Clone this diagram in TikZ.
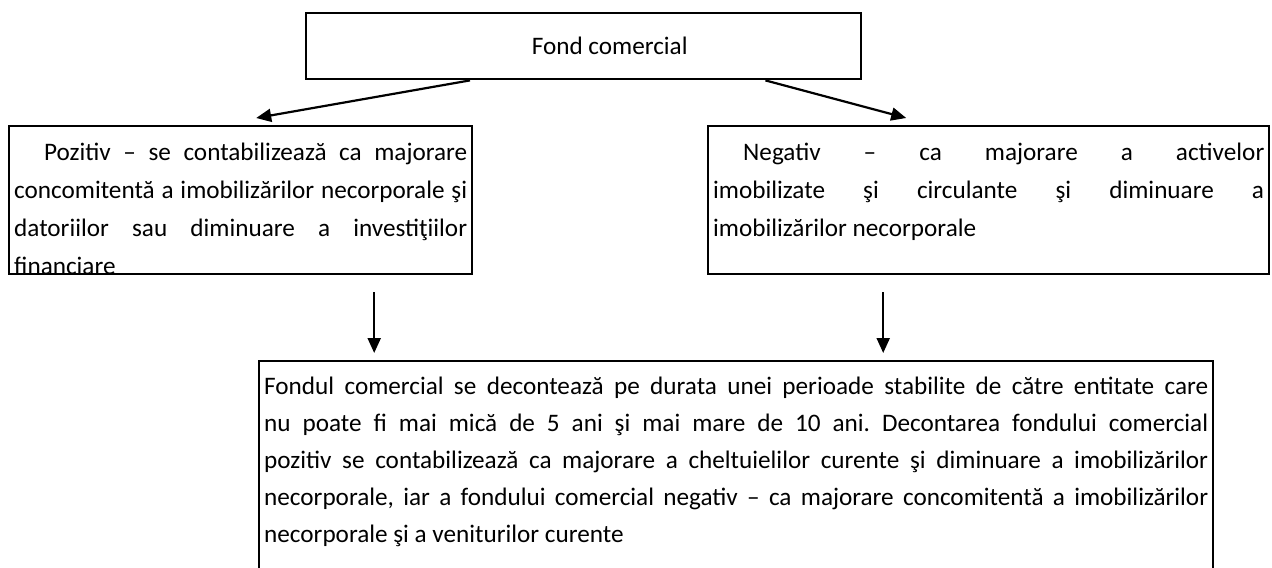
\documentclass[tikz,border=0pt]{standalone}
\usepackage{fontspec}
\setmainfont{Carlito}
\usetikzlibrary{arrows.meta,positioning,calc}

% one justified line of a panel
\newcommand{\jline}[1]{\makebox[\linewidth][s]{#1}}

\begin{document}
\frenchspacing
\begin{tikzpicture}[
    x=0.5pt, y=-0.5pt,
    txt/.style={font=\fontsize{12.6}{18.75}\selectfont},
    title/.style={draw, line width=1.2pt, anchor=north west, minimum width=277.5pt, minimum height=33pt, inner sep=0pt, txt},
    panel/.style={draw, line width=1.2pt, anchor=north west, inner xsep=2.5pt, inner ysep=0pt, txt},
    arrow/.style={-{Triangle[length=7.5pt, width=6.5pt]}, line width=1.1pt}
]
\useasboundingbox (0,0) rectangle (1272,567);

\node[title] (fond) at (305,12) {\hspace*{26pt}Fond comercial};

\begin{scope}
\clip (6,123) rectangle (473,274.5);
\node[panel] (pozitiv) at (8,125) {\parbox[t][74pt][t]{226.5pt}{\baselineskip=19pt
  \rule{0pt}{17pt}\jline{\hspace*{15pt}Pozitiv – se contabilizează ca majorare}\\
  \jline{concomitentă a imobilizărilor necorporale şi}\\
  \jline{datoriilor sau diminuare a investiţiilor}\\
  financiare}};
\end{scope}

\node[panel] (negativ) at (707,125) {\parbox[t][74pt][t]{275.5pt}{\baselineskip=19pt
  \rule{0pt}{17pt}\jline{\hspace*{15pt}Negativ – ca majorare a activelor}\\
  \jline{imobilizate şi circulante şi diminuare a}\\
  imobilizărilor necorporale}};

\node[panel] (decontare) at (258,360) {\parbox[t][110pt][t]{472pt}{\baselineskip=18.5pt
  \rule{0pt}{16.5pt}\jline{Fondul comercial se decontează pe durata unei perioade stabilite de către entitate care}\\
  \jline{nu poate fi mai mică de 5 ani şi mai mare de 10 ani. Decontarea fondului comercial}\\
  \jline{pozitiv se contabilizează ca majorare a cheltuielilor curente şi diminuare a imobilizărilor}\\
  \jline{necorporale, iar a fondului comercial negativ – ca majorare concomitentă a imobilizărilor}\\
  necorporale şi a veniturilor curente}};

\draw[arrow] ($(fond.south west)+(165,0)$) -- ($(pozitiv.north)+(15.5,-7)$);
\draw[arrow] ($(fond.south east)+(-97,0)$) -- ($(negativ.north)+(-82.5,-7)$);
\draw[arrow] ($(pozitiv.south)+(133.5,17)$) -- ($(pozitiv.south |- decontare.north)+(133.5,-7)$);
\draw[arrow] ($(negativ.south)+(-105.5,17)$) -- ($(negativ.south |- decontare.north)+(-105.5,-7)$);
\end{tikzpicture}
\end{document}
